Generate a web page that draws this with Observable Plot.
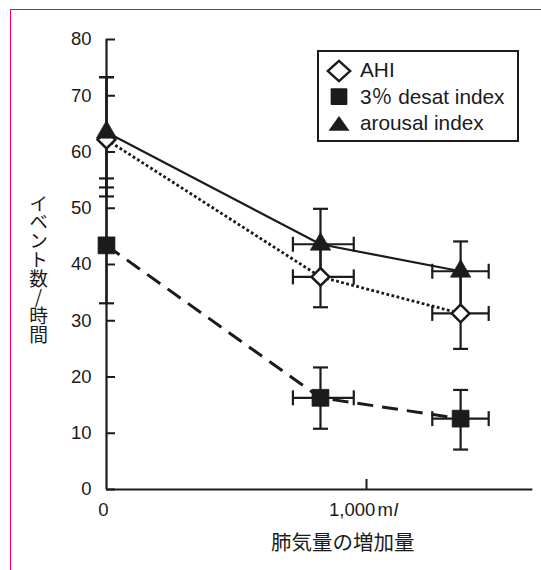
<!DOCTYPE html>
<html><head><meta charset="utf-8">
<script src="https://cdn.jsdelivr.net/npm/d3@7"></script>
<script src="https://cdn.jsdelivr.net/npm/@observablehq/plot@0.6"></script>
<style>
html,body{margin:0;padding:0;background:#fff;}
#wrap{position:relative;width:541px;height:570px;overflow:hidden;font-family:"Liberation Sans","Noto Sans CJK JP",sans-serif;color:#1c1a1b;}
#frame{position:absolute;left:10px;top:9px;right:-5px;bottom:-5px;border-left:1.5px solid #e6007e;border-top:1.5px solid #e6007e;}
#chart{position:absolute;left:0;top:0;}
#ylabel{position:absolute;left:28px;top:194px;writing-mode:vertical-rl;text-orientation:upright;font-family:"Noto Sans CJK JP";font-size:18.75px;line-height:20px;}
#legend{position:absolute;left:317px;top:50px;width:198px;height:88px;border:2px solid #1c1a1b;background:#fff;}
.row{position:absolute;left:0;width:198px;height:26px;line-height:26px;font-size:20.8px;white-space:nowrap;}
.row svg{position:absolute;left:7px;top:0;}
.row span{position:absolute;left:41px;top:0;}
</style></head>
<body><div id="wrap"><div id="frame"></div><div id="chart"></div><div id="ylabel"></div><div id="legend"></div></div>
<script>
// ---- data ----
const seriesNames = ["AHI", "3％ desat index", "arousal index"];
const volume     = [0, 823, 1362];   // ml
const volumeLow  = [0, 717, 1253];
const volumeHigh = [0, 951, 1470];

const ahi      = [62.2, 37.8, 31.3];
const ahiLow   = [52.1, 32.4, 25.0];
const ahiHigh  = [73.3, 43.6, 38.8];

const desat     = [43.4, 16.3, 12.6];
const desatLow  = [33.1, 10.8, 7.1];
const desatHigh = [55.3, 21.7, 17.7];

const arousal     = [63.5, 43.6, 38.8];
const arousalLow  = [53.7, 37.8, 31.3];
const arousalHigh = [73.3, 49.9, 44.1];

const yTicks = [0, 10, 20, 30, 40, 50, 60, 70, 80];
const xTicks = [0, 1000];
const xTickLabels = ["0", "1,000 ml"];
const xTitle = "肺気量の増加量";
const yTitle = "イベント数/時間";

// ---- build table ----
const ink = "#1c1a1b";
const table = [
  [ahi, ahiLow, ahiHigh],
  [desat, desatLow, desatHigh],
  [arousal, arousalLow, arousalHigh]
].flatMap(([v, lo, hi], i) => volume.map((x, j) => ({
  series: seriesNames[i], x, xLow: volumeLow[j], xHigh: volumeHigh[j],
  y: v[j], yLow: lo[j], yHigh: hi[j]
})));
const bySeries = s => table.filter(d => d.series === s);
const withXErr = table.filter(d => d.xHigh > d.xLow);

const hCap = {draw(ctx, size) { const r = Math.sqrt(size / Math.PI); ctx.moveTo(-r, 0); ctx.lineTo(r, 0); }};
const vCap = {draw(ctx, size) { const r = Math.sqrt(size / Math.PI); ctx.moveTo(0, -r); ctx.lineTo(0, r); }};

const capStyle = {stroke: ink, strokeWidth: 2.2, fill: "none", r: 7.5};

const chart = Plot.plot({
  width: 541, height: 570,
  marginLeft: 106, marginTop: 39, marginBottom: 81, marginRight: 8.6,
  x: {domain: [0, 1640]},
  y: {domain: [0, 80]},
  style: {background: "transparent", fontFamily: "Liberation Sans, Noto Sans CJK JP, sans-serif", fontSize: "18.5px", color: ink, overflow: "visible"},
  marks: [
    Plot.axisY({ticks: yTicks, tickSize: 0, tickPadding: 15, label: null}),
    Plot.axisY({ticks: yTicks, tickSize: 9, dx: 9, tickFormat: () => "", label: null, strokeWidth: 2}),
    Plot.axisX({ticks: xTicks, tickSize: 0, tickPadding: 13, tickFormat: d => xTickLabels[xTicks.indexOf(d)], label: null, dx: -3}),
    Plot.axisX({ticks: xTicks.filter(d => d !== 0), tickSize: 10, dy: -10, tickFormat: () => "", label: null, strokeWidth: 2}),
    Plot.ruleX([0], {stroke: ink, strokeWidth: 2.2}),
    Plot.ruleY([0], {stroke: ink, strokeWidth: 2.2}),
    // series lines
    Plot.line(bySeries(seriesNames[0]), {x: "x", y: "y", stroke: ink, strokeWidth: 2.8, strokeDasharray: "2.8,2.4", strokeLinecap: "butt"}),
    Plot.line(bySeries(seriesNames[1]), {x: "x", y: "y", stroke: ink, strokeWidth: 3, strokeDasharray: "16,9", strokeLinecap: "butt"}),
    Plot.line(bySeries(seriesNames[2]), {x: "x", y: "y", stroke: ink, strokeWidth: 2.2}),
    // vertical error bars
    Plot.ruleX(table, {x: "x", y1: "yLow", y2: "yHigh", stroke: ink, strokeWidth: 2.2}),
    Plot.dot(table, {x: "x", y: "yLow", symbol: hCap, ...capStyle}),
    Plot.dot(table, {x: "x", y: "yHigh", symbol: hCap, ...capStyle}),
    // horizontal error bars
    Plot.ruleY(withXErr, {y: "y", x1: "xLow", x2: "xHigh", stroke: ink, strokeWidth: 2.2}),
    Plot.dot(withXErr, {x: "xLow", y: "y", symbol: vCap, ...capStyle}),
    Plot.dot(withXErr, {x: "xHigh", y: "y", symbol: vCap, ...capStyle}),
    // markers
    Plot.dot(bySeries(seriesNames[0]), {x: "x", y: "y", symbol: "diamond2", r: 8, fill: "white", stroke: ink, strokeWidth: 2.5}),
    Plot.dot(bySeries(seriesNames[1]), {x: "x", y: "y", symbol: "square", r: 9.5, fill: ink, stroke: ink, strokeWidth: 0.8, strokeLinejoin: "round"}),
    Plot.dot(bySeries(seriesNames[2]), {x: "x", y: "y", symbol: "triangle", r: 7.6, fill: ink, stroke: ink, strokeWidth: 0.6}),
    // x title
    Plot.text([xTitle], {text: d => d, frameAnchor: "bottom", dx: 23, dy: 60, fontSize: 20.5, fontFamily: "Noto Sans CJK JP", fill: ink})
  ]
});

// italic "l" in the ml unit
d3.select(chart).selectAll("text").filter(function() { return this.textContent === xTickLabels[1]; }).each(function() {
  const [num, unit] = xTickLabels[1].split(" ");
  const t = d3.select(this).text(null);
  t.append("tspan").text(num);
  t.append("tspan").attr("dx", 2).text(unit.slice(0, -1));
  t.append("tspan").attr("dx", 1).attr("font-style", "italic").text(unit.slice(-1));
});

document.getElementById("chart").appendChild(chart);
document.getElementById("ylabel").textContent = yTitle;

// legend
const icons = [
  '<svg width="26" height="28"><polygon points="13,3.8 24.3,14 13,24.2 1.7,14" fill="white" stroke="' + ink + '" stroke-width="2.4" stroke-linejoin="miter"/></svg>',
  '<svg width="26" height="28"><rect x="4.65" y="4.25" width="16.7" height="16.7" rx="1" fill="' + ink + '"/></svg>',
  '<svg width="26" height="28"><polygon points="13,5.9 23.5,20.7 2.5,20.7" fill="' + ink + '"/></svg>'
];
const rowTops = [5.35, 32.05, 58.05];
const legend = document.getElementById("legend");
seriesNames.forEach((name, i) => {
  const row = document.createElement("div");
  row.className = "row";
  row.style.top = rowTops[i] + "px";
  row.innerHTML = icons[i];
  const span = document.createElement("span");
  span.textContent = name;
  row.appendChild(span);
  legend.appendChild(row);
});
</script>
</body></html>
